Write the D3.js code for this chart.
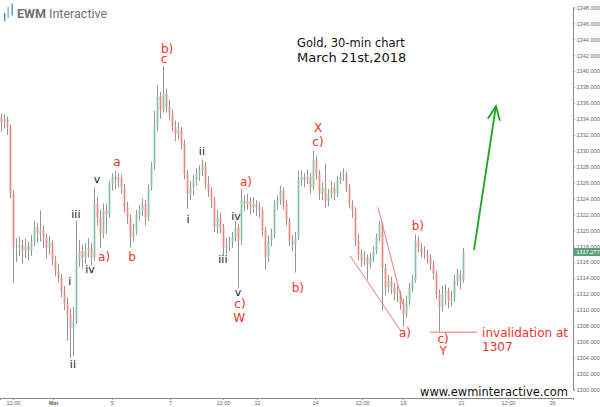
<!DOCTYPE html>
<html><head><meta charset="utf-8">
<script src="https://cdn.jsdelivr.net/npm/d3@7"></script>
<style>body{margin:0;background:#fff}svg{display:block}</style>
</head><body><svg id="c" width="600" height="407"></svg>
<script>
// 30-min candles [open, high, low, close]
const ohlc = [
[1334.2,1334.7,1332.4,1333.6],[1333.6,1334.6,1332.8,1334.0],[1334.0,1334.3,1332.0,1333.0],[1333.0,1333.3,1324.0,1324.6],
[1324.6,1325.0,1313.4,1317.8],[1317.8,1319.0,1316.0,1317.8],[1317.8,1319.2,1316.8,1318.2],[1318.2,1318.8,1315.8,1317.4],
[1317.4,1319.0,1316.5,1318.0],[1318.0,1318.6,1316.2,1317.4],[1317.4,1319.4,1316.8,1318.5],[1318.5,1321.2,1318.0,1320.4],
[1320.4,1320.9,1318.4,1319.5],[1319.5,1322.5,1318.6,1320.0],[1320.0,1320.6,1317.8,1319.1],[1319.1,1319.6,1316.4,1317.8],
[1317.8,1319.3,1316.9,1318.5],[1318.5,1318.8,1315.6,1316.2],[1316.2,1316.8,1314.2,1314.9],[1314.9,1315.8,1313.4,1314.1],
[1314.1,1314.6,1311.6,1312.4],[1312.4,1313.0,1310.0,1310.7],[1310.7,1311.6,1306.1,1309.4],[1309.4,1310.2,1303.9,1307.7],
[1307.7,1310.4,1304.2,1308.6],[1308.6,1321.2,1308.2,1316.2],[1316.2,1318.8,1315.4,1317.4],[1317.4,1318.2,1315.2,1316.6],
[1316.6,1318.4,1315.8,1317.4],[1317.4,1319.0,1316.6,1317.8],[1317.8,1318.4,1315.6,1316.6],[1316.6,1325.4,1316.2,1323.3],
[1323.3,1324.2,1320.6,1321.6],[1321.6,1322.6,1317.8,1319.5],[1319.5,1323.4,1319.0,1322.5],[1322.5,1323.4,1319.6,1322.0],
[1322.0,1326.2,1321.6,1325.8],[1325.8,1327.2,1325.0,1326.7],[1326.7,1327.5,1325.2,1326.3],[1326.3,1327.2,1325.4,1326.7],
[1326.7,1327.0,1324.6,1325.4],[1325.4,1325.8,1322.2,1322.9],[1322.9,1323.6,1320.8,1321.6],[1321.6,1322.0,1317.8,1319.1],
[1319.1,1320.8,1318.6,1320.0],[1320.0,1322.6,1319.4,1322.0],[1322.0,1323.2,1321.2,1322.5],[1322.5,1324.0,1321.8,1323.3],
[1323.3,1323.8,1320.6,1321.6],[1321.6,1325.8,1321.2,1325.4],[1325.4,1328.6,1325.0,1328.0],[1328.0,1335.0,1327.6,1333.0],
[1333.0,1338.2,1332.4,1336.8],[1336.8,1337.4,1334.0,1335.1],[1335.1,1340.6,1334.8,1337.2],[1337.2,1337.8,1334.8,1335.5],
[1335.5,1336.4,1333.8,1334.7],[1334.7,1335.2,1332.4,1333.0],[1333.0,1333.8,1331.2,1332.1],[1332.1,1333.6,1331.4,1332.6],
[1332.6,1333.0,1330.2,1330.9],[1330.9,1331.4,1326.4,1327.1],[1327.1,1327.6,1322.7,1324.6],[1324.6,1326.2,1323.8,1325.4],
[1325.4,1327.0,1324.4,1326.3],[1326.3,1327.8,1325.6,1327.1],[1327.1,1328.2,1326.2,1327.5],[1327.5,1328.9,1326.8,1328.3],
[1328.3,1328.6,1325.2,1325.8],[1325.8,1326.8,1324.2,1325.0],[1325.0,1325.4,1322.8,1323.7],[1323.7,1324.2,1319.8,1320.4],
[1320.4,1322.6,1319.6,1321.6],[1321.6,1322.2,1319.6,1320.4],[1320.4,1320.8,1316.8,1317.8],[1317.8,1319.0,1317.0,1318.2],
[1318.2,1319.2,1317.4,1318.5],[1318.5,1319.8,1317.8,1319.1],[1319.1,1321.2,1318.6,1320.4],[1320.4,1320.8,1312.8,1318.7],
[1318.7,1325.2,1318.2,1323.7],[1323.7,1324.4,1322.4,1323.3],[1323.3,1324.6,1322.6,1323.7],[1323.7,1324.2,1322.0,1322.9],
[1322.9,1324.2,1322.2,1323.3],[1323.3,1323.8,1321.8,1322.9],[1322.9,1323.6,1321.6,1322.5],[1322.5,1322.9,1319.2,1320.0],
[1320.0,1320.4,1315.0,1316.6],[1316.6,1319.4,1316.0,1318.7],[1318.7,1320.2,1318.0,1319.5],[1319.5,1323.8,1319.0,1323.3],
[1323.3,1324.4,1322.6,1323.7],[1323.7,1325.6,1323.2,1325.0],[1325.0,1325.4,1322.6,1323.3],[1323.3,1323.8,1320.6,1321.2],
[1321.2,1321.6,1318.0,1318.7],[1318.7,1319.4,1317.4,1318.2],[1318.2,1319.8,1314.7,1319.1],[1319.1,1327.5,1318.8,1326.3],
[1326.3,1327.6,1325.6,1326.7],[1326.7,1327.2,1325.4,1326.3],[1326.3,1327.6,1325.8,1326.7],[1326.7,1327.2,1324.6,1325.4],
[1325.4,1330.0,1325.0,1328.8],[1328.8,1329.4,1326.4,1327.1],[1327.1,1327.6,1323.8,1324.6],[1324.6,1326.0,1323.8,1325.4],
[1325.4,1328.4,1322.8,1323.7],[1323.7,1325.2,1323.0,1324.6],[1324.6,1326.2,1324.0,1325.4],[1325.4,1326.0,1323.8,1324.6],
[1324.6,1326.8,1324.2,1326.3],[1326.3,1327.4,1325.8,1326.9],[1326.9,1327.8,1326.2,1327.1],[1327.1,1327.4,1324.8,1325.4],
[1325.4,1325.8,1322.8,1323.3],[1323.3,1323.8,1321.6,1322.5],[1322.5,1322.9,1318.0,1318.7],[1318.7,1319.6,1316.2,1317.0],
[1317.0,1317.6,1315.4,1316.2],[1316.2,1317.4,1315.6,1316.6],[1316.6,1317.0,1313.8,1315.7],[1315.7,1317.2,1315.2,1316.6],
[1316.6,1318.0,1316.0,1317.4],[1317.4,1319.6,1317.0,1319.1],[1319.1,1321.2,1318.6,1320.8],[1320.8,1321.0,1309.9,1315.3],
[1315.3,1315.8,1311.8,1312.8],[1312.8,1314.4,1312.2,1313.7],[1313.7,1314.2,1312.0,1312.8],[1312.8,1313.4,1311.2,1312.0],
[1312.0,1313.0,1311.0,1312.0],[1312.0,1312.4,1310.0,1310.7],[1310.7,1311.4,1307.9,1309.4],[1309.4,1311.8,1309.0,1311.1],
[1311.1,1313.4,1310.6,1312.8],[1312.8,1314.4,1312.2,1313.7],[1313.7,1319.5,1313.4,1318.7],[1318.7,1319.2,1317.2,1317.8],
[1317.8,1318.4,1316.6,1317.2],[1317.2,1318.0,1316.4,1317.0],[1317.0,1317.6,1315.8,1316.6],[1316.6,1317.0,1315.0,1315.7],
[1315.7,1316.2,1313.8,1314.5],[1314.5,1314.9,1311.4,1312.0],[1312.0,1312.6,1307.3,1310.3],[1310.3,1313.0,1309.8,1312.0],
[1312.0,1313.2,1310.6,1312.4],[1312.4,1312.8,1310.2,1311.1],[1311.1,1312.4,1310.4,1311.5],[1311.5,1314.4,1311.0,1313.7],
[1313.7,1315.2,1313.0,1314.5],[1314.5,1315.0,1312.6,1313.7],[1313.7,1317.8,1313.4,1317.277]
];
const yTicks = [1300,1302,1304,1306,1308,1310,1312,1314,1316,1318,1320,1322,1324,1326,1328,1330,1332,1334,1336,1338,1340,1342,1344,1346,1348];
const xTickIdx = [3.8,17.2,36.8,56.2,73.8,85.2,104.5,120.2,133.8,153.2,168.8,183.5];
const xTickLabels = ["12:00","Mar","5","7","12:00","12","14","12:00","19","21","12:00","26"];
const lastPrice = 1317.277;
// wave labels: text, candle index, price, colour kind
const waveText  = ["b)","c","i","ii","iii","iv","a)","v","a","b","i","ii","a)","iv","iii","v","c)","W","b)","X","c)","b)","a)","c)","Y"];
const waveIdx   = [55.2,54.2,22.8,23.8,24.8,29.5,34.2,31.8,38.5,43.5,62.2,66.8,81.5,78.2,73.8,78.8,79.5,79.2,98.8,105.5,105.5,138.8,134.5,147.2,147.2];
const wavePrice = [1342.28,1341.03,1313.14,1302.71,1321.55,1314.64,1316.15,1325.95,1328.09,1316.15,1320.93,1329.47,1325.58,1321.30,1315.90,1311.76,1310.25,1308.49,1312.26,1332.36,1330.60,1320.05,1306.61,1305.85,1304.35];
const waveRed   = [1,1,0,0,0,0,1,0,1,1,0,0,1,0,0,0,1,1,1,1,1,1,1,1,1];
// wedge lines [idx1, price1, idx2, price2]
const wedgeLines = [[116.2,1316.8,133.2,1307.3],[125.5,1322.9,133.8,1310.7]];
const invalidLevel = 1307.2, invalidFrom = 142.8, invalidTo = 158.5;
const arrowLine = [157.5,1317.5,164.8,1335.6];

const svg = d3.select("#c");
const x = d3.scaleLinear().domain([-0.5,190.5]).range([0,573]);
const y = d3.scaleLinear().domain([1300,1348]).range([389.5,7.5]);

const red = "#e8342f";
const g = svg.append("g");
// candles
const cw = 1.7;
const cg = g.selectAll("g.cdl").data(ohlc).join("g").attr("class","cdl");
cg.append("line")
  .attr("x1",(d,i)=>x(i)).attr("x2",(d,i)=>x(i))
  .attr("y1",d=>y(d[1])).attr("y2",d=>y(d[2]))
  .attr("stroke","#7a7a7a").attr("stroke-width",0.8);
cg.append("rect")
  .attr("x",(d,i)=>x(i)-cw/2).attr("width",cw)
  .attr("y",d=>y(Math.max(d[0],d[3])))
  .attr("height",d=>Math.max(0.8,Math.abs(y(d[0])-y(d[3]))))
  .attr("fill",d=>d[3]>=d[0]?"#82c2a5":"#ea877f");

// axes
const ya = svg.append("g").attr("transform","translate(573,0)")
  .call(d3.axisRight(y).tickValues(yTicks).tickSize(2).tickPadding(1.5).tickFormat(d3.format(".3f")));
const xa = svg.append("g").attr("transform","translate(0,398)")
  .call(d3.axisBottom(x).tickValues(xTickIdx).tickSize(2).tickPadding(1).tickFormat((d,i)=>xTickLabels[i]));
[ya,xa].forEach(a=>{
  a.selectAll("path.domain").attr("stroke","#888").attr("stroke-width",1);
  a.selectAll(".tick line").attr("stroke","#999");
  a.selectAll("text").attr("fill","#666").style("font-family","Liberation Sans, Arial, sans-serif").style("font-size","5.6px");
});
xa.selectAll("text").filter((d,i)=>xTickLabels[i]==="Mar").style("font-weight","bold");

// last price tag
const ly = y(lastPrice);
svg.append("rect").attr("x",574).attr("y",ly-4).attr("width",26).attr("height",8).attr("fill","#5c9f7c");
svg.append("text").attr("x",576.5).attr("y",ly+2).text(d3.format(".3f")(lastPrice))
  .attr("fill","#fff").style("font-family","Liberation Sans, Arial, sans-serif").style("font-size","5.6px");

// wedge lines
g.selectAll("line.wedge").data(wedgeLines).join("line").attr("class","wedge")
  .attr("x1",d=>x(d[0])).attr("y1",d=>y(d[1])).attr("x2",d=>x(d[2])).attr("y2",d=>y(d[3]))
  .attr("stroke","#f06a6a").attr("stroke-width",0.9);
// invalidation line
g.append("line").attr("x1",x(invalidFrom)).attr("x2",x(invalidTo)).attr("y1",y(invalidLevel)).attr("y2",y(invalidLevel))
  .attr("stroke","#f06a6a").attr("stroke-width",1);

// green arrow
const ax1=x(arrowLine[0]), ay1=y(arrowLine[1]), ax2=x(arrowLine[2]), ay2=y(arrowLine[3]);
g.append("line").attr("x1",ax1).attr("y1",ay1).attr("x2",ax2).attr("y2",ay2)
  .attr("stroke","#1ea21e").attr("stroke-width",1.8);
const ang = Math.atan2(ay1-ay2, ax1-ax2);
const hl = 15, spread = 0.42;
g.append("path")
  .attr("d",`M${ax2+hl*Math.cos(ang+spread)},${ay2+hl*Math.sin(ang+spread)}L${ax2},${ay2}L${ax2+hl*Math.cos(ang-spread)},${ay2+hl*Math.sin(ang-spread)}`)
  .attr("fill","none").attr("stroke","#1ea21e").attr("stroke-width",1.8);

// wave labels
const ff = "DejaVu Sans, Verdana, sans-serif";
g.selectAll("text.wave").data(waveText).join("text").attr("class","wave")
  .attr("x",(d,i)=>x(waveIdx[i])).attr("y",(d,i)=>y(wavePrice[i]))
  .attr("text-anchor","middle")
  .attr("fill",(d,i)=>waveRed[i]?red:"#1a1a1a")
  .style("font-family",ff)
  .style("font-size",(d,i)=>waveRed[i]?"12px":"11px")
  .text(d=>d);

// invalidation text
g.append("text").attr("x",x(160.2)).attr("y",y(1306.61)).attr("fill",red)
  .style("font-family",ff).style("font-size","12px").text("invalidation at");
g.append("text").attr("x",x(160.2)).attr("y",y(1304.85)).attr("fill",red)
  .style("font-family",ff).style("font-size","12px").text("1307");

// title
svg.append("text").attr("x",297).attr("y",47).attr("fill","#111").style("font-family",ff).style("font-size","11.5px").text("Gold, 30-min chart");
svg.append("text").attr("x",297).attr("y",62).attr("fill","#111").style("font-family",ff).style("font-size","13px").text("March 21st,2018");

// watermark
svg.append("text").attr("x",420).attr("y",396).attr("fill","#111").style("font-family",ff).style("font-size","12.5px")
  .attr("textLength",148).attr("lengthAdjust","spacingAndGlyphs").text("www.ewminteractive.com");

// logo
const logo = svg.append("g");
logo.append("rect").attr("x",4).attr("y",13).attr("width",1.3).attr("height",8).attr("fill","#3b8ad6");
logo.append("rect").attr("x",7.5).attr("y",7).attr("width",1.3).attr("height",11).attr("fill","#9aa4ad");
logo.append("rect").attr("x",11.5).attr("y",3.5).attr("width",1.3).attr("height",12).attr("fill","#3b8ad6");
const lt = logo.append("text").attr("x",17).attr("y",18).attr("fill","#707070")
  .style("font-family","Roboto, Liberation Sans, sans-serif").style("font-size","12.5px");
lt.append("tspan").style("font-weight","bold").text("EWM");
lt.append("tspan").text(" Interactive");
</script></body></html>
